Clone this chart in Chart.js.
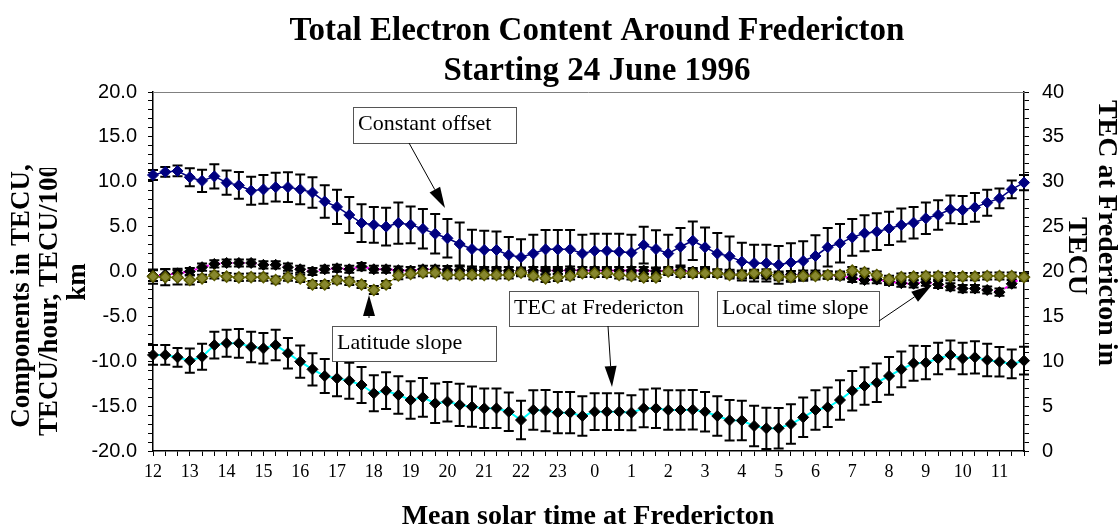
<!DOCTYPE html>
<html>
<head>
<meta charset="utf-8">
<title>Total Electron Content Around Fredericton</title>
<script src="https://cdn.jsdelivr.net/npm/chart.js@4.4.0/dist/chart.umd.min.js"></script>
<style>
  html, body { margin: 0; padding: 0; background: #ffffff; }
  #wrap { width: 1120px; height: 529px; }
</style>
</head>
<body>
<div id="wrap"><canvas id="tec-chart" width="1120" height="529"></canvas></div>
<script>
// mean solar time, one label per hour (samples every 20 min)
const hourLabels = ['12', '13', '14', '15', '16', '17', '18', '19', '20', '21', '22', '23',
                    '0', '1', '2', '3', '4', '5', '6', '7', '8', '9', '10', '11'];

// left axis components (TECU, TECU/hour, TECU/100 km)
const constantOffset = [
  10.75, 11.1, 11.2, 10.5, 10.1, 10.6, 9.9, 9.6, 9.0, 9.15, 9.4, 9.4,
  9.15, 8.8, 7.8, 7.2, 6.3, 5.4, 5.2, 5.0, 5.4, 5.2, 4.75, 4.2,
  3.7, 3.06, 2.5, 2.4, 2.4, 1.84, 1.6, 2.0, 2.47, 2.47, 2.47, 2.0,
  2.3, 2.3, 2.2, 2.1, 2.95, 2.5, 2.0, 2.76, 3.43, 2.7, 2.0, 1.7,
  1.1, 0.93, 0.93, 0.74, 1.0, 1.17, 1.73, 2.7, 3.14, 3.8, 4.26, 4.44,
  4.8, 5.18, 5.44, 5.93, 6.3, 6.93, 6.85, 7.15, 7.67, 8.15, 9.15, 9.9
];
const constantOffsetErr = [
  0.55, 0.55, 0.6, 1.0, 1.25, 1.35, 1.35, 1.5, 1.55, 1.6, 1.6, 1.65,
  1.65, 1.7, 1.8, 1.9, 2.0, 2.1, 2.0, 2.1, 2.3, 2.05, 2.2, 2.2,
  2.15, 2.4, 2.15, 2.15, 2.05, 2.0, 2.0, 2.1, 2.15, 2.15, 2.15, 2.1,
  1.9, 1.9, 2.0, 2.0, 2.05, 2.1, 2.1, 2.1, 2.15, 2.2, 2.3, 2.2,
  2.1, 2.05, 2.05, 2.1, 2.15, 2.2, 2.3, 2.15, 2.15, 2.05, 2.0, 2.05,
  1.85, 1.85, 1.75, 1.75, 1.65, 1.55, 1.55, 1.6, 1.45, 1.1, 1.0, 0.85
];
const latitudeSlope = [
  -0.57, -0.63, -0.66, -0.95, -0.76, -0.39, -0.57, -0.66, -0.63, -0.63, -0.95, -0.63,
  -0.76, -1.45, -1.45, -0.95, -1.1, -1.45, -2.06, -1.45, -0.45, -0.28, -0.13, -0.13,
  -0.39, -0.39, -0.39, -0.39, -0.39, -0.39, -0.13, -0.5, -0.76, -0.66, -0.5, -0.2,
  -0.2, -0.2, -0.39, -0.5, -0.66, -0.66, 0.0, -0.2, -0.2, -0.2, -0.2, -0.39,
  -0.39, -0.2, -0.15, -0.57, -0.63, -0.5, -0.5, -0.39, -0.39, 0.1, -0.1, -0.39,
  -0.87, -0.63, -0.57, -0.5, -0.5, -0.57, -0.57, -0.57, -0.5, -0.5, -0.5, -0.63
];
const latitudeSlopeErr = [
  0.8, 0.9, 0.8, 0.5, 0.4, 0.4, 0.4, 0.4, 0.4, 0.4, 0.4, 0.4,
  0.4, 0.4, 0.4, 0.4, 0.4, 0.4, 0.45, 0.4, 0.4, 0.4, 0.4, 0.4,
  0.4, 0.4, 0.4, 0.4, 0.4, 0.4, 0.4, 0.4, 0.4, 0.4, 0.4, 0.4,
  0.4, 0.4, 0.4, 0.4, 0.4, 0.4, 0.4, 0.4, 0.4, 0.4, 0.4, 0.4,
  0.4, 0.4, 0.4, 0.4, 0.4, 0.4, 0.4, 0.4, 0.4, 0.4, 0.4, 0.4,
  0.4, 0.4, 0.4, 0.4, 0.4, 0.4, 0.4, 0.4, 0.4, 0.4, 0.4, 0.4
];
const localTimeSlope = [
  -0.45, -0.35, -0.2, 0.0, 0.48, 0.84, 0.95, 0.95, 0.95, 0.74, 0.74, 0.48,
  0.25, 0.0, 0.25, 0.36, 0.25, 0.55, 0.25, 0.25, 0.15, 0.1, 0.25, 0.25,
  0.2, 0.15, 0.15, 0.1, 0.1, 0.1, 0.05, 0.1, 0.1, 0.1, 0.15, 0.1,
  0.1, 0.1, 0.1, 0.1, 0.1, 0.05, 0.1, 0.1, 0.0, -0.1, -0.15, -0.2,
  -0.3, -0.35, -0.4, -0.4, -0.35, -0.3, -0.3, -0.4, -0.5, -0.76, -0.95, -0.9,
  -1.1, -1.3, -1.37, -1.2, -1.45, -1.7, -1.9, -1.9, -2.06, -2.3, -1.37, -0.6
];
const localTimeSlopeErr = [
  0.6, 0.6, 0.5, 0.4, 0.4, 0.4, 0.4, 0.4, 0.4, 0.4, 0.4, 0.4,
  0.4, 0.4, 0.4, 0.4, 0.4, 0.4, 0.4, 0.4, 0.4, 0.4, 0.4, 0.4,
  0.4, 0.4, 0.4, 0.4, 0.4, 0.4, 0.4, 0.4, 0.4, 0.4, 0.4, 0.4,
  0.4, 0.4, 0.4, 0.4, 0.4, 0.4, 0.4, 0.4, 0.4, 0.4, 0.4, 0.4,
  0.4, 0.4, 0.4, 0.4, 0.4, 0.4, 0.4, 0.4, 0.4, 0.4, 0.4, 0.4,
  0.4, 0.4, 0.4, 0.4, 0.4, 0.4, 0.4, 0.4, 0.4, 0.4, 0.4, 0.4
];

// right axis: TEC at Fredericton (TECU)
const tecFredericton = [
  10.7, 10.7, 10.44, 10.06, 10.5, 11.8, 12.0, 12.0, 11.6, 11.44, 11.8, 10.9,
  9.95, 9.1, 8.36, 8.1, 7.83, 7.35, 6.43, 6.72, 6.24, 5.68, 5.98, 5.31,
  5.5, 5.13, 4.94, 4.75, 4.75, 4.38, 3.45, 4.57, 4.5, 4.27, 4.27, 3.9,
  4.38, 4.38, 4.38, 4.27, 4.75, 4.75, 4.57, 4.57, 4.6, 4.38, 3.9, 3.42,
  3.4, 2.79, 2.53, 2.53, 3.0, 3.75, 4.57, 4.87, 5.68, 6.72, 7.24, 7.61,
  8.36, 9.1, 9.77, 9.84, 10.3, 10.7, 10.3, 10.44, 10.14, 9.95, 9.7, 10.06
];
const tecFrederictonErr = [
  1.1, 1.1, 1.05, 1.35, 1.45, 1.5, 1.5, 1.6, 1.7, 1.7, 1.7, 1.7,
  1.8, 1.8, 1.9, 2.0, 2.0, 2.0, 2.0, 2.05, 2.1, 2.1, 2.15, 2.2,
  2.2, 2.35, 2.25, 2.2, 2.2, 2.15, 2.15, 2.2, 2.3, 2.3, 2.3, 2.2,
  2.05, 2.05, 2.05, 1.95, 2.1, 2.2, 2.2, 2.2, 2.2, 2.2, 2.2, 2.25,
  2.2, 2.25, 2.3, 2.25, 2.2, 2.2, 2.2, 2.2, 2.2, 2.2, 2.1, 2.15,
  2.1, 2.0, 1.95, 1.85, 1.75, 1.6, 1.75, 1.8, 1.8, 1.65, 1.6, 1.55
];

const serif = '"Liberation Serif", "Times New Roman", serif';
const sans = '"Liberation Sans", Arial, sans-serif';

function toPoints(values) {
  return values.map((v, i) => ({ x: i, y: v }));
}

// vertical error bars with caps, drawn under the markers
const errorBars = {
  id: 'errorBars',
  beforeDatasetsDraw(chart) {
    const ctx = chart.ctx;
    const xs = chart.scales.x;
    ctx.save();
    ctx.strokeStyle = '#000000';
    ctx.lineWidth = 2;
    chart.data.datasets.forEach(ds => {
      if (!ds.errors) return;
      const ys = chart.scales[ds.yAxisID];
      ds.data.forEach((p, i) => {
        const e = ds.errors[i];
        const x = xs.getPixelForValue(p.x);
        const top = ys.getPixelForValue(p.y + e);
        const bot = ys.getPixelForValue(p.y - e);
        ctx.beginPath();
        ctx.moveTo(x, top); ctx.lineTo(x, bot);
        ctx.moveTo(x - 5, top); ctx.lineTo(x + 5, top);
        ctx.moveTo(x - 5, bot); ctx.lineTo(x + 5, bot);
        ctx.stroke();
      });
    });
    ctx.restore();
  }
};

// labelled boxes with arrows pointing at each series
const callouts = [
  { text: 'Constant offset', box: [353, 107, 163, 36], from: [409, 143], to: [445, 208] },
  { text: 'Latitude slope', box: [332, 326, 164, 35], from: [369, 318], to: [369, 295] },
  { text: 'TEC at Fredericton', box: [509, 291, 189, 35], from: [608, 326], to: [612, 387] },
  { text: 'Local time slope', box: [717, 291, 162, 35], from: [879, 321], to: [932, 285] }
];

function drawArrow(ctx, from, to) {
  const ang = Math.atan2(to[1] - from[1], to[0] - from[0]);
  const len = 21, half = 6;
  const bx = to[0] - len * Math.cos(ang);
  const by = to[1] - len * Math.sin(ang);
  ctx.beginPath();
  ctx.moveTo(from[0], from[1]);
  ctx.lineTo(bx, by);
  ctx.stroke();
  ctx.beginPath();
  ctx.moveTo(to[0], to[1]);
  ctx.lineTo(bx + half * Math.sin(ang), by - half * Math.cos(ang));
  ctx.lineTo(bx - half * Math.sin(ang), by + half * Math.cos(ang));
  ctx.closePath();
  ctx.fill();
}

function rotatedText(ctx, text, x, y, angle) {
  ctx.save();
  ctx.translate(x, y);
  ctx.rotate(angle);
  ctx.fillText(text, 0, 0);
  ctx.restore();
}

const decorations = {
  id: 'decorations',
  beforeDraw(chart) {
    const ctx = chart.ctx;
    ctx.save();
    ctx.fillStyle = '#ffffff';
    ctx.fillRect(0, 0, chart.width, chart.height);
    ctx.restore();
  },
  beforeDatasetsDraw(chart) {
    const { ctx, chartArea } = chart;
    ctx.save();
    ctx.strokeStyle = '#808080';
    ctx.lineWidth = 1;
    ctx.beginPath();
    ctx.moveTo(chartArea.left, chartArea.top + 0.5);
    ctx.lineTo(chartArea.right, chartArea.top + 0.5);
    ctx.stroke();
    ctx.restore();
  },
  afterDraw(chart) {
    const ctx = chart.ctx;
    ctx.save();
    ctx.fillStyle = '#000000';

    // titles
    ctx.textAlign = 'center';
    ctx.textBaseline = 'alphabetic';
    ctx.font = 'bold 33px ' + serif;
    ctx.fillText('Total Electron Content Around Fredericton', 597, 40);
    ctx.fillText('Starting 24 June 1996', 597, 80);

    ctx.font = 'bold 28px ' + serif;
    ctx.fillText('Mean solar time at Fredericton', 588, 524);

    // left axis title; the middle line runs past the frame and is cut off
    ctx.font = 'bold 27px ' + serif;
    ctx.textBaseline = 'middle';
    rotatedText(ctx, 'Components in TECU,', 22, 296, -Math.PI / 2);
    rotatedText(ctx, 'km', 78, 282, -Math.PI / 2);
    ctx.save();
    ctx.beginPath();
    ctx.rect(0, 168, 110, 361);
    ctx.clip();
    rotatedText(ctx, 'TECU/hour, TECU/100', 50, 300, -Math.PI / 2);
    ctx.restore();

    // right axis title
    ctx.font = 'bold 28px ' + serif;
    rotatedText(ctx, 'TEC at Fredericton in', 1106, 233, Math.PI / 2);
    rotatedText(ctx, 'TECU', 1076, 256, Math.PI / 2);

    // callouts
    ctx.textAlign = 'left';
    ctx.textBaseline = 'alphabetic';
    ctx.font = '22px ' + serif;
    ctx.lineWidth = 1;
    callouts.forEach(c => {
      const [bx, by, bw, bh] = c.box;
      ctx.fillStyle = '#ffffff';
      ctx.fillRect(bx, by, bw, bh);
      ctx.strokeStyle = '#555555';
      ctx.strokeRect(bx + 0.5, by + 0.5, bw, bh);
      ctx.fillStyle = '#000000';
      ctx.fillText(c.text, bx + 5, by + 23);
      ctx.strokeStyle = '#000000';
      drawArrow(ctx, c.from, c.to);
    });
    ctx.restore();
  }
};

const ctx = document.getElementById('tec-chart').getContext('2d');

new Chart(ctx, {
  type: 'line',
  data: {
    datasets: [
      {
        label: 'Constant offset',
        data: toPoints(constantOffset),
        errors: constantOffsetErr,
        yAxisID: 'y',
        order: 0,
        borderColor: '#000080',
        borderWidth: 1.5,
        pointStyle: 'rectRot',
        pointRadius: 5.5,
        pointBackgroundColor: '#000080',
        pointBorderColor: '#000080',
        pointBorderWidth: 1,
        clip: false
      },
      {
        label: 'Latitude slope',
        data: toPoints(latitudeSlope),
        errors: latitudeSlopeErr,
        yAxisID: 'y',
        order: 1,
        borderColor: '#808000',
        borderWidth: 1,
        pointStyle: 'rectRot',
        pointRadius: 5.5,
        pointBackgroundColor: '#87872e',
        pointBorderColor: '#5a5a00',
        pointBorderWidth: 1.5,
        clip: false
      },
      {
        label: 'Local time slope',
        data: toPoints(localTimeSlope),
        errors: localTimeSlopeErr,
        yAxisID: 'y',
        order: 2,
        borderColor: '#ff00ff',
        borderWidth: 2,
        borderDash: [3, 3],
        pointStyle: 'rectRot',
        pointRadius: 5.5,
        pointBackgroundColor: '#000000',
        pointBorderColor: '#000000',
        pointBorderWidth: 1,
        clip: false
      },
      {
        label: 'TEC at Fredericton',
        data: toPoints(tecFredericton),
        errors: tecFrederictonErr,
        yAxisID: 'y1',
        order: 3,
        borderColor: '#00ffff',
        borderWidth: 2,
        pointStyle: 'rectRot',
        pointRadius: 5.5,
        pointBackgroundColor: '#000000',
        pointBorderColor: '#000000',
        pointBorderWidth: 1,
        clip: false
      }
    ]
  },
  options: {
    responsive: false,
    animation: false,
    devicePixelRatio: 1,
    layout: { padding: { top: 92, left: 0, right: 0, bottom: 0 } },
    plugins: {
      legend: { display: false },
      tooltip: { enabled: false },
      title: { display: false }
    },
    elements: { line: { tension: 0 } },
    scales: {
      x: {
        type: 'linear',
        min: 0,
        max: 71,
        afterFit: s => { s.height = 78; },
        border: { display: true, color: '#000000', width: 1.5 },
        grid: { display: true, drawOnChartArea: false, drawTicks: true, tickLength: 5, color: '#000000' },
        ticks: {
          stepSize: 1,
          autoSkip: false,
          maxRotation: 0,
          padding: 5,
          color: '#000000',
          font: { family: serif, size: 18 },
          callback: v => (v % 3 === 0 ? hourLabels[v / 3] : '')
        }
      },
      y: {
        type: 'linear',
        position: 'left',
        min: -20,
        max: 20,
        afterFit: s => { s.width = 153; },
        border: { display: true, color: '#000000', width: 1.5 },
        grid: { display: true, drawOnChartArea: false, drawTicks: true, tickLength: 5, color: '#000000' },
        ticks: {
          stepSize: 1,
          autoSkip: false,
          padding: 11,
          color: '#000000',
          font: { family: sans, size: 20 },
          callback: v => (v % 5 === 0 ? v.toFixed(1) : '')
        }
      },
      y1: {
        type: 'linear',
        position: 'right',
        min: 0,
        max: 40,
        afterFit: s => { s.width = 96; },
        border: { display: true, color: '#000000', width: 1.5 },
        grid: { display: true, drawOnChartArea: false, drawTicks: true, tickLength: 5, color: '#000000' },
        ticks: {
          stepSize: 1,
          autoSkip: false,
          padding: 13,
          color: '#000000',
          font: { family: sans, size: 20 },
          callback: v => (v % 5 === 0 ? String(v) : '')
        }
      }
    }
  },
  plugins: [decorations, errorBars]
});
</script>
</body>
</html>
